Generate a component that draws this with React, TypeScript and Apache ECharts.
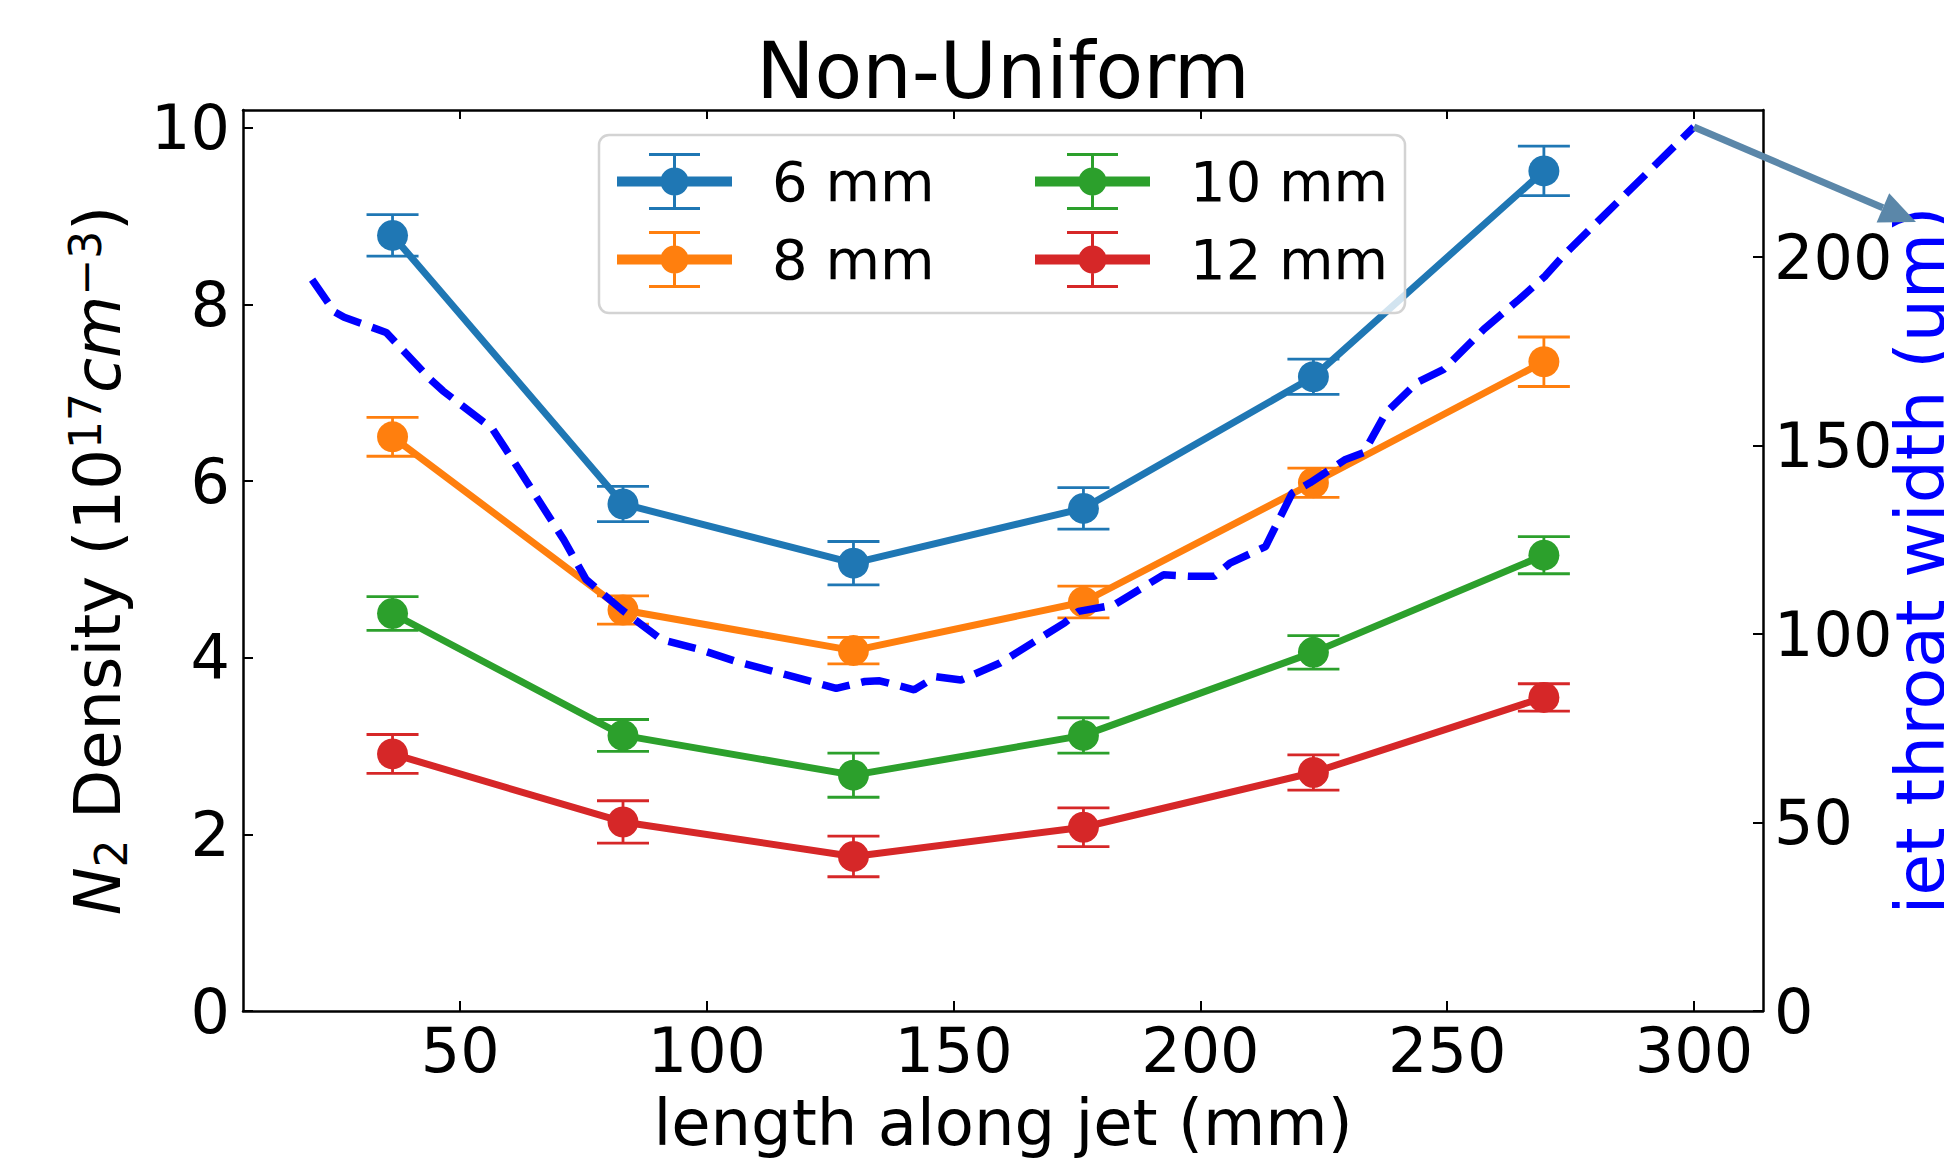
import React, { useEffect, useRef } from 'react';
import * as echarts from 'echarts';

// ---------- data ----------
const positions = [36.3, 83.0, 129.7, 176.3, 222.9, 269.6];
const density6 = [8.78, 5.74, 5.07, 5.69, 7.18, 9.51];
const error6 = [0.235, 0.2, 0.245, 0.235, 0.2, 0.28];
const density8 = [6.5, 4.54, 4.08, 4.63, 5.98, 7.35];
const error8 = [0.22, 0.16, 0.15, 0.18, 0.165, 0.28];
const density10 = [4.5, 3.12, 2.67, 3.12, 4.06, 5.16];
const error10 = [0.19, 0.18, 0.25, 0.2, 0.19, 0.21];
const density12 = [2.91, 2.14, 1.75, 2.08, 2.7, 3.55];
const error12 = [0.22, 0.24, 0.23, 0.22, 0.2, 0.155];

const throatX = [20, 24.5, 26.5, 35, 44, 46.5, 56.5, 62, 71, 75.5, 82.7, 90.8, 98.8, 106, 117.5, 126.2, 132, 135, 142, 146.4, 151.5, 159.4, 172.4, 175.3, 182.5, 192.5, 197.9, 202.8, 206, 213.2, 218.6, 222.2, 229.4, 233.1, 237.6, 243.9, 249.3, 257.4, 264.6, 269.9, 274, 300];
const throatWidth = [194, 185.5, 184, 180, 167.5, 164.5, 154.5, 143.5, 125, 114.5, 106.5, 98.5, 95.8, 92.7, 88.7, 85.6, 87.4, 87.6, 85.2, 88.7, 87.8, 92.3, 102.9, 106, 107.7, 115.7, 115.3, 115.3, 118.8, 123.2, 137.4, 140.1, 146.3, 148.1, 158.7, 166.7, 170.2, 180.8, 188.8, 195, 201, 234.5];

const xTicks = [50, 100, 150, 200, 250, 300];
const leftTicks = [0, 2, 4, 6, 8, 10];
const rightTicks = [0, 50, 100, 150, 200];

const seriesNames = ['6 mm', '8 mm', '10 mm', '12 mm'];
const densities = [density6, density8, density10, density12];
const errors = [error6, error8, error10, error12];
const colors = ['#1f77b4', '#ff7f0e', '#2ca02c', '#d62728'];

const titleText = 'Non-Uniform';
const xName = 'length along jet (mm)';
const rightName = 'jet throat width (um)';

const F = 'DejaVu Sans';

// legend icon: errorbar handle (line + vertical bar + caps + marker)
const legendIcon =
  'path://M0 23.5 H115 V33.5 H0 Z M56 0 H59 V57 H56 Z M32 0 H83 V3 H32 Z M32 54 H83 V57 H32 Z ' +
  'M43.5 28.5 A14 14 0 1 1 71.5 28.5 A14 14 0 1 1 43.5 28.5 Z M150 28.5 L150 28.5';

export default function App() {
  const ref = useRef<HTMLDivElement>(null);

  useEffect(() => {
    const chart = echarts.init(ref.current!, null, { renderer: 'svg', width: 1944, height: 1161 });

    const axisLine = { show: true, onZero: false, lineStyle: { color: '#000', width: 2.5 } };

    const lineSeries = seriesNames.map((name, k) => ({
      name,
      type: 'line',
      xAxisIndex: 0,
      yAxisIndex: 0,
      data: positions.map((x, i) => [x, densities[k][i]]),
      symbol: 'circle',
      symbolSize: 31,
      itemStyle: { color: colors[k], borderWidth: 0 },
      lineStyle: { color: colors[k], width: 7 },
      z: 3,
      silent: true,
    }));

    const errorSeries = seriesNames.map((name, k) => ({
      name: name + ' error',
      type: 'custom',
      xAxisIndex: 0,
      yAxisIndex: 0,
      data: positions.map((x, i) => [x, densities[k][i] - errors[k][i], densities[k][i] + errors[k][i]]),
      encode: { x: 0, y: [1, 2] },
      z: 2,
      silent: true,
      renderItem: (params: any, api: any) => {
        const x = api.value(0);
        const lo = api.coord([x, api.value(1)]);
        const hi = api.coord([x, api.value(2)]);
        const half = 26;
        const st = { stroke: colors[k], lineWidth: 2.8 };
        return {
          type: 'group',
          children: [
            { type: 'line', shape: { x1: lo[0], y1: lo[1], x2: hi[0], y2: hi[1] }, style: st },
            { type: 'line', shape: { x1: lo[0] - half, y1: lo[1], x2: lo[0] + half, y2: lo[1] }, style: st },
            { type: 'line', shape: { x1: hi[0] - half, y1: hi[1], x2: hi[0] + half, y2: hi[1] }, style: st },
          ],
        };
      },
    }));

    const throatSeries = {
      name: 'throat',
      type: 'line',
      xAxisIndex: 0,
      yAxisIndex: 1,
      data: throatX.map((x, i) => [x, throatWidth[i]]),
      symbol: 'none',
      lineStyle: { color: '#0000ff', width: 7.5, type: [28, 12], cap: 'butt' },
      z: 5,
      silent: true,
    };

    const legendCommon = {
      orient: 'vertical',
      top: 153,
      itemWidth: 150,
      itemHeight: 57,
      itemGap: 21,
      padding: 0,
      icon: legendIcon,
      z: 60,
      itemStyle: { borderWidth: 0 },
      textStyle: { fontSize: 56, fontFamily: F, color: '#000' },
      selectedMode: false,
    };

    chart.setOption({
      animation: false,
      backgroundColor: '#fff',
      textStyle: { fontFamily: F },
      grid: { left: 243, top: 110, width: 1520, height: 901, outerBoundsMode: 'none', containLabel: false },
      legend: [
        { ...legendCommon, left: 617, data: ['6 mm', '8 mm'] },
        { ...legendCommon, left: 1035, data: ['10 mm', '12 mm'] },
      ],
      xAxis: [
        {
          type: 'value',
          min: 6,
          max: 314,
          position: 'bottom',
          axisLine,
          axisTick: { show: true, inside: true, length: 10, customValues: xTicks, lineStyle: { color: '#000', width: 2 } },
          axisLabel: { customValues: xTicks, fontSize: 62, fontFamily: F, color: '#000', margin: 8 },
          splitLine: { show: false },
          name: xName,
          nameLocation: 'middle',
          nameGap: 80,
          nameMoveOverlap: false,
          nameTextStyle: { fontSize: 64, fontFamily: F, color: '#000' },
        },
        {
          type: 'value',
          min: 6,
          max: 314,
          position: 'top',
          axisLine,
          axisTick: { show: true, inside: true, length: 9, customValues: xTicks, lineStyle: { color: '#000', width: 2 } },
          axisLabel: { show: false },
          splitLine: { show: false },
        },
      ],
      yAxis: [
        {
          type: 'value',
          min: 0,
          max: 10.2,
          position: 'left',
          axisLine,
          axisTick: { show: true, inside: true, length: 10, customValues: leftTicks, lineStyle: { color: '#000', width: 2 } },
          axisLabel: { customValues: leftTicks, fontSize: 62, fontFamily: F, color: '#000', margin: 13 },
          splitLine: { show: false },
          name: '{i|N}{sub|2}{n| Density (10}{sup|17}{i|cm}{sup|\u22123}{n|)}',
          nameLocation: 'middle',
          nameRotate: 90,
          nameGap: 110,
          nameMoveOverlap: false,
          nameTextStyle: {
            fontSize: 64,
            fontFamily: F,
            color: '#000',
            rich: {
              n: { fontSize: 64, fontFamily: F, lineHeight: 70, color: '#000' },
              i: { fontSize: 64, fontFamily: F, fontStyle: 'italic', lineHeight: 70, color: '#000' },
              sub: { fontSize: 44, fontFamily: F, lineHeight: 44, verticalAlign: 'bottom', color: '#000' },
              sup: { fontSize: 44, fontFamily: F, lineHeight: 44, verticalAlign: 'top', color: '#000' },
            },
          },
        },
        {
          type: 'value',
          min: 0,
          max: 239,
          position: 'right',
          axisLine,
          axisTick: { show: true, inside: true, length: 10, customValues: rightTicks, lineStyle: { color: '#000', width: 2 } },
          axisLabel: { customValues: rightTicks, fontSize: 62, fontFamily: F, color: '#000', margin: 11 },
          splitLine: { show: false },
          name: rightName,
          nameLocation: 'middle',
          nameRotate: 90,
          nameGap: 123,
          nameMoveOverlap: false,
          nameTextStyle: { fontSize: 68, fontFamily: F, color: '#0000ff' },
        },
      ],
      series: [...errorSeries, ...lineSeries, throatSeries],
    });

    // annotation arrow starting at the end of the dashed curve
    const throatIndex = errorSeries.length + lineSeries.length;
    const start = chart.convertToPixel({ seriesIndex: throatIndex }, [
      throatX[throatX.length - 1],
      throatWidth[throatWidth.length - 1],
    ]) as number[];
    const tip = [1916, 222];
    const dx = tip[0] - start[0];
    const dy = tip[1] - start[1];
    const len = Math.sqrt(dx * dx + dy * dy);
    const ux = dx / len;
    const uy = dy / len;
    const headLen = 36;
    const headHalf = 16;
    const base = [tip[0] - ux * headLen, tip[1] - uy * headLen];
    const nx = -uy;
    const ny = ux;
    const arrowColor = '#5b87a9';

    chart.setOption({
      graphic: [
        {
          id: 'legendFrame',
          type: 'rect',
          shape: { x: 599, y: 135, width: 806, height: 178, r: 10 },
          style: { fill: 'rgba(255,255,255,0.8)', stroke: '#d3d3d3', lineWidth: 2.5 },
          z: 50,
          silent: true,
        },
        {
          id: 'title',
          type: 'text',
          x: 1003,
          y: 71,
          style: {
            text: titleText,
            fontSize: 78,
            fontFamily: F,
            fill: '#000',
            align: 'center',
            verticalAlign: 'middle',
            textAlign: 'center',
            textVerticalAlign: 'middle',
          },
          silent: true,
        },
        {
          id: 'arrowLine',
          type: 'line',
          shape: { x1: start[0], y1: start[1], x2: base[0], y2: base[1] },
          style: { stroke: arrowColor, lineWidth: 7 },
          z: 20,
          silent: true,
        },
        {
          id: 'arrowHead',
          type: 'polygon',
          shape: {
            points: [
              [tip[0], tip[1]],
              [base[0] + nx * headHalf, base[1] + ny * headHalf],
              [base[0] - nx * headHalf, base[1] - ny * headHalf],
            ],
          },
          style: { fill: arrowColor },
          z: 20,
          silent: true,
        },
      ],
    });

    return () => chart.dispose();
  }, []);

  return (
    <div
      ref={ref}
      style={{ position: 'fixed', left: 0, top: 0, width: 1944, height: 1161, background: '#fff' }}
    />
  );
}
